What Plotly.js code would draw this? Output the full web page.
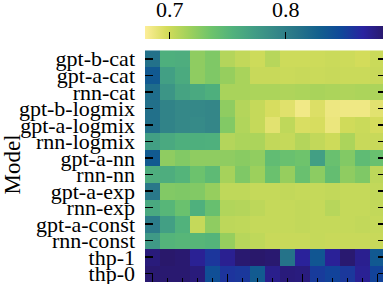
<!DOCTYPE html>
<html>
<head>
<meta charset="utf-8">
<script src="https://cdn.plot.ly/plotly-3.0.1.min.js"></script>
<style>
html, body { margin: 0; padding: 0; overflow: hidden; background: #fff; }
#chart { width: 386px; height: 284px; }
</style>
</head>
<body>
<div id="chart"></div>
<script>
// Model names (rows, top to bottom)
const models = ["gpt-b-cat", "gpt-a-cat", "rnn-cat", "gpt-b-logmix", "gpt-a-logmix", "rnn-logmix",
  "gpt-a-nn", "rnn-nn", "gpt-a-exp", "rnn-exp", "gpt-a-const", "rnn-const", "thp-1", "thp-0"];
// Column index (16 columns)
const columns = [0, 1, 2, 3, 4, 5, 6, 7, 8, 9, 10, 11, 12, 13, 14, 15];

const gptBCat     = [0.813, 0.757, 0.758, 0.723, 0.729, 0.709, 0.704, 0.700, 0.708, 0.700, 0.700, 0.700, 0.701, 0.700, 0.698, 0.701];
const gptACat     = [0.834, 0.771, 0.761, 0.723, 0.729, 0.720, 0.713, 0.702, 0.702, 0.701, 0.702, 0.701, 0.702, 0.701, 0.701, 0.702];
const rnnCat      = [0.817, 0.780, 0.767, 0.762, 0.757, 0.713, 0.713, 0.712, 0.712, 0.711, 0.712, 0.713, 0.712, 0.711, 0.712, 0.712];
const gptBLogmix  = [0.814, 0.796, 0.792, 0.792, 0.793, 0.723, 0.709, 0.703, 0.696, 0.692, 0.684, 0.694, 0.686, 0.685, 0.685, 0.691];
const gptALogmix  = [0.814, 0.796, 0.792, 0.790, 0.793, 0.728, 0.710, 0.703, 0.691, 0.705, 0.695, 0.696, 0.687, 0.699, 0.701, 0.697];
const rnnLogmix   = [0.771, 0.762, 0.757, 0.757, 0.756, 0.709, 0.712, 0.712, 0.704, 0.703, 0.709, 0.704, 0.700, 0.712, 0.702, 0.702];
const gptANn      = [0.833, 0.723, 0.728, 0.723, 0.723, 0.723, 0.725, 0.722, 0.744, 0.739, 0.736, 0.771, 0.739, 0.728, 0.745, 0.739];
const rnnNn       = [0.758, 0.758, 0.752, 0.737, 0.746, 0.714, 0.729, 0.718, 0.738, 0.720, 0.739, 0.724, 0.742, 0.723, 0.729, 0.706];
const gptAExp     = [0.807, 0.728, 0.729, 0.728, 0.720, 0.705, 0.705, 0.703, 0.703, 0.704, 0.703, 0.703, 0.704, 0.703, 0.703, 0.704];
const rnnExp      = [0.762, 0.750, 0.738, 0.756, 0.740, 0.710, 0.709, 0.706, 0.703, 0.703, 0.704, 0.703, 0.708, 0.703, 0.703, 0.704];
const gptAConst   = [0.803, 0.771, 0.754, 0.703, 0.723, 0.706, 0.705, 0.703, 0.703, 0.703, 0.704, 0.703, 0.703, 0.703, 0.704, 0.703];
const rnnConst    = [0.776, 0.752, 0.750, 0.750, 0.752, 0.720, 0.708, 0.705, 0.702, 0.702, 0.702, 0.703, 0.702, 0.702, 0.702, 0.702];
const thp1        = [0.880, 0.886, 0.884, 0.871, 0.857, 0.872, 0.884, 0.886, 0.884, 0.811, 0.869, 0.836, 0.870, 0.884, 0.873, 0.834];
const thp0        = [0.884, 0.884, 0.884, 0.880, 0.842, 0.858, 0.856, 0.832, 0.874, 0.880, 0.879, 0.854, 0.850, 0.856, 0.871, 0.850];

// Colour range and colour-bar ticks
const zMin = 0.6787;
const zMax = 0.8856;
const cbTicks = [0.7, 0.8];
const cbTickText = ["0.7", "0.8"];

// cmocean "haline", reversed (low = pale yellow, high = dark indigo)
const halineColors = ["rgb(253,238,153)", "rgb(212,220,90)", "rgb(160,209,91)", "rgb(111,196,107)",
  "rgb(81,178,124)", "rgb(65,157,133)", "rgb(53,136,136)", "rgb(38,116,137)",
  "rgb(18,95,142)", "rgb(15,71,153)", "rgb(42,35,160)", "rgb(41,24,107)"];
const colorscale = halineColors.map((c, i) => [i / (halineColors.length - 1), c]);

const z = [gptBCat, gptACat, rnnCat, gptBLogmix, gptALogmix, rnnLogmix, gptANn, rnnNn,
  gptAExp, rnnExp, gptAConst, rnnConst, thp1, thp0];

const H = 284, mt = 0, mb = 2;
const ph = H - mt - mb;
const px2paper = (py) => (ph - (py - mt)) / ph;

const serif = "Liberation Serif, Times New Roman, serif";

const heat = {
  type: "heatmap",
  x: columns,
  y: models,
  z: z,
  zmin: zMin,
  zmax: zMax,
  colorscale: colorscale,
  colorbar: {
    orientation: "h",
    x: 0, xanchor: "left",
    y: px2paper(46), yanchor: "bottom",
    len: 240, lenmode: "pixels",
    thickness: 13, thicknessmode: "pixels",
    xpad: 0, ypad: 0,
    outlinewidth: 0,
    tickmode: "array",
    tickvals: cbTicks,
    ticks: "inside",
    ticklen: 7,
    tickwidth: 1.5,
    tickcolor: "#000",
    showticklabels: false
  }
};

// carrier for the colour-bar's tick labels on the top axis (draws nothing)
const cbLabels = {
  type: "scatter",
  mode: "none",
  x: cbTicks,
  y: [models[0], models[0]],
  xaxis: "x2",
  yaxis: "y",
  hoverinfo: "skip",
  showlegend: false
};

const layout = {
  width: 386,
  height: H,
  margin: { l: 145, r: 1, t: mt, b: mb, pad: 0 },
  paper_bgcolor: "#fff",
  plot_bgcolor: "#fff",
  font: { family: serif, color: "#000", size: 22 },
  xaxis: {
    range: [-0.5, 15.5],
    tickmode: "linear", tick0: 0, dtick: 5,
    ticks: "inside", ticklen: 8, tickwidth: 1.5, tickcolor: "#000",
    showticklabels: false,
    showgrid: false, zeroline: false, showline: false,
    minor: { tick0: 0, dtick: 1, ticks: "inside", ticklen: 4.5, tickwidth: 1.3, tickcolor: "#000", showgrid: false }
  },
  xaxis2: {
    overlaying: "x",
    anchor: "free",
    position: px2paper(24),
    side: "top",
    range: [zMin, zMax],
    tickmode: "array",
    tickvals: cbTicks,
    ticktext: cbTickText,
    ticks: "",
    showgrid: false, zeroline: false, showline: false,
    tickfont: { family: serif, size: 22, color: "#000" },
    ticklabelstandoff: 3
  },
  yaxis: {
    domain: [0, px2paper(47)],
    type: "category",
    autorange: "reversed",
    tickmode: "array",
    tickvals: models,
    ticks: "inside", ticklen: 7.5, tickwidth: 1.5, tickcolor: "#000",
    mirror: "ticks",
    showline: false, showgrid: false, zeroline: false,
    tickfont: { family: serif, size: 22, color: "#000" },
    ticklabelstandoff: 9,
    title: { text: "Model", font: { family: serif, size: 23, color: "#000" }, standoff: 4 }
  },
  showlegend: false
};

Plotly.newPlot("chart", [heat, cbLabels], layout, { displayModeBar: false, staticPlot: true });
</script>
</body>
</html>
